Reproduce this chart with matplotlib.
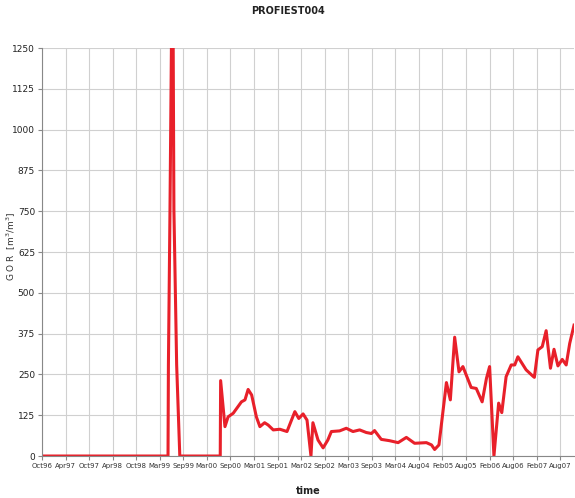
import matplotlib.pyplot as plt
import numpy as np

# months since Oct 1996
months = [0, 32.1, 32.2, 32.6, 33.0, 33.4, 33.6, 34.3, 35.1, 45.4, 45.5, 46.6, 47.4,
          48.7, 50.8, 51.7, 52.5, 53.4, 54.6, 55.5, 56.7, 57.6, 58.9, 60.6, 62.4,
          64.4, 65.4, 66.5, 67.5, 68.5, 69.0, 70.3, 71.6, 72.8, 73.7, 75.8, 77.5,
          79.2, 80.9, 82.6, 83.9, 84.7, 86.4, 88.5, 90.7, 92.8, 94.9, 97.9, 99.2,
          100.0, 101.1, 103.0, 104.0, 105.1, 106.2, 107.2, 109.3, 110.6, 112.1,
          113.2, 114.0, 115.1, 116.3, 117.1, 118.2, 119.5, 120.4, 121.2, 123.3,
          125.0, 125.4, 126.3, 127.4, 128.4, 129.5, 130.4, 131.4, 132.5, 133.5,
          134.4, 135.5]
gor = [0, 0, 279, 754, 1300, 1300, 754, 279, 0, 0, 231, 90, 120,
       131, 166, 172, 204, 187, 120, 90, 102, 95, 80, 82, 75,
       136, 115, 129, 110, 0, 102, 49, 25, 49, 75, 77, 85,
       75, 80, 72, 69, 78, 51, 47, 41, 57, 39, 41, 34,
       20, 34, 225, 172, 364, 258, 274, 210, 207, 166,
       238, 274, 0, 162, 133, 243, 279, 279, 304, 264,
       245, 241, 325, 335, 384, 269, 327, 276, 296, 279,
       345, 401]

tick_labels = ['Oct96', 'Apr97', 'Oct97', 'Apr98', 'Oct98', 'Mar99', 'Sep99', 'Mar00',
               'Sep00', 'Mar01', 'Sep01', 'Mar02', 'Sep02', 'Mar03', 'Sep03', 'Mar04',
               'Aug04', 'Feb05', 'Aug05', 'Feb06', 'Aug06', 'Feb07', 'Aug07']
tick_pos = np.arange(len(tick_labels)) * 6
y_ticks = np.arange(0, 1251, 125)

fig = plt.figure(figsize=(5.75, 4.98), dpi=100)
ax = fig.add_axes([0.073, 0.0843, 0.926, 0.8193])

ax.plot(months, gor, color='#e8202a', lw=2.2)

ax.set_xlim(0, 135.6)
ax.set_ylim(0, 1250)
ax.set_xticks(tick_pos)
ax.set_xticklabels(tick_labels, fontsize=5, color='#333333')
ax.set_yticks(y_ticks)
ax.set_yticklabels([str(v) for v in y_ticks], fontsize=6.5, color='#222222')
ax.tick_params(axis='both', length=3, color='#888888', pad=2)

ax.grid(True, color='#d0d0d0', lw=0.8)
ax.set_axisbelow(True)
for s in ['top', 'right']:
    ax.spines[s].set_visible(False)
for s in ['left', 'bottom']:
    ax.spines[s].set_color('#888888')
    ax.spines[s].set_linewidth(0.8)

fig.text(11 / 575, 0.505, 'G O R  [m$^3$/m$^3$]', rotation=90, ha='center', va='center',
         fontsize=6.5, color='#333333')
ax.set_xlabel('time', fontsize=7, fontweight='bold', color='#222222', labelpad=12)
fig.text(0.5, 0.978, 'PROFIEST004', ha='center', va='center', fontsize=7,
         fontweight='bold', color='#222222')

fig.savefig('out.png', dpi=100)
